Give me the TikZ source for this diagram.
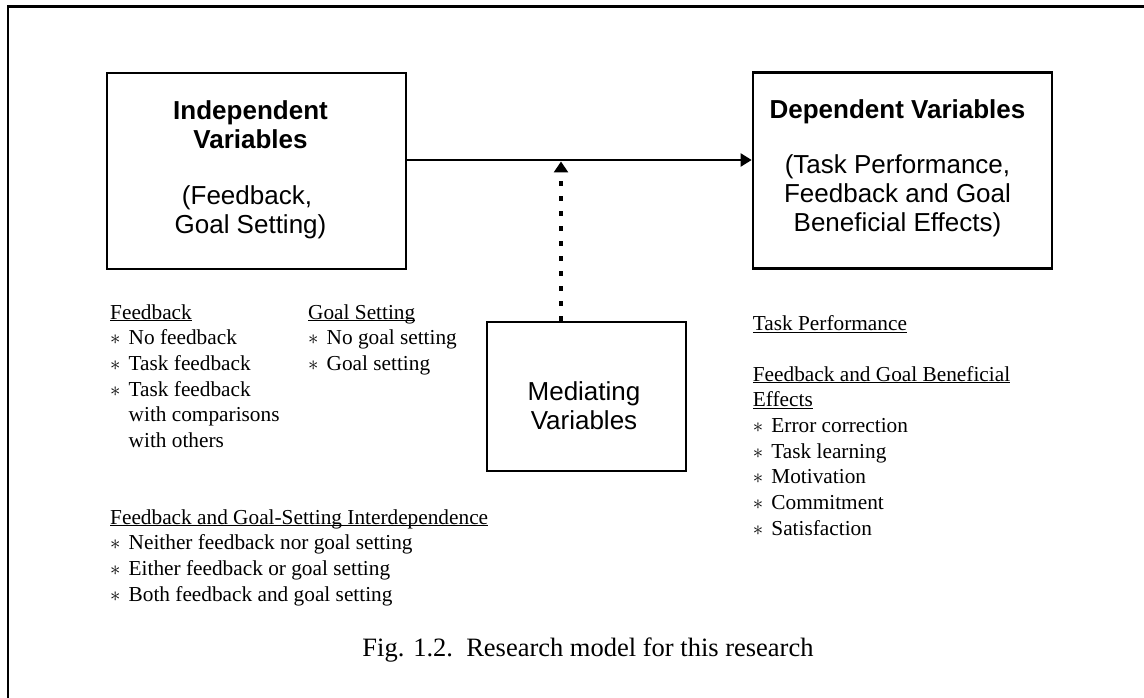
\documentclass[tikz,border=0pt]{standalone}
\usepackage{fontspec}
\setmainfont{Liberation Serif}
\newfontfamily\boxfont{Liberation Sans}
\usetikzlibrary{arrows.meta}

% underline at a fixed depth, crossing descenders
\newcommand{\ulinetext}[1]{\setbox0\hbox{#1}\rlap{\rule[-2.2pt]{\wd0}{1.3pt}}\box0}
% list bullet and continuation indent
\newcommand{\bul}{\makebox[18.5pt][l]{$\ast$}}
\newcommand{\cont}{\hspace*{18.5pt}}

\begin{document}
\begin{tikzpicture}[x=1pt, y=-1pt,
  varbox/.style={draw, line width=2.6pt, inner sep=0pt, minimum width=299pt, minimum height=196pt},
  % multi-line nodes sit on the baseline of their last line
  boxtitle/.style={font=\boxfont\bfseries\fontsize{26pt}{29.5pt}\selectfont, align=center, inner sep=0pt, anchor=base},
  boxtext/.style={font=\boxfont\fontsize{26pt}{29pt}\selectfont, align=center, inner sep=0pt, anchor=base},
  listtext/.style={font=\fontsize{21.3pt}{25.7pt}\selectfont, align=left, inner sep=0pt, anchor=base west},
  flow/.style={line width=2pt, -{Triangle[length=11pt, width=13pt]}},
  mediate/.style={line width=3.5pt, dash pattern=on 5pt off 10pt, -{Triangle[length=11pt, width=14pt]}}
]
\useasboundingbox (0,0) rectangle (1144,698);

% page frame
\draw[line width=2.3pt] (7.8,705) -- (7.8,6.6) -- (1150,6.6);

% the three variable boxes
\node[varbox] (iv) at (256.5,171) {};
\node[varbox] (dv) at (902.5,170.3) {};
\node[varbox, minimum width=199pt, minimum height=149pt] (med) at (586.5,396.5) {};

\node[boxtitle] (ivhead) at (250.5,149) {Independent\\Variables};
\node[boxtext] (ivsub) at (250.5,233.3) {(Feedback,\kern7pt\\Goal Setting)};

\node[boxtitle] (dvhead) at (897.5,119) {Dependent Variables};
\node[boxtext] (dvsub) at (897.5,231.7) {(Task Performance,\\Feedback and Goal\\Beneficial Effects)};

\node[boxtext] (medtext) at (584,429) {Mediating\\Variables};

% connectors
\draw[flow] (iv.east |- 0,160) -- (dv.west |- 0,160);
\coordinate (meet) at (561,161.5);
\draw[mediate] (med.north -| meet) -- (meet);

% lists under the boxes
\node[listtext] (fblist) at (110,447.5) {\ulinetext{Feedback}\\\bul No feedback\\\bul Task feedback\\\bul Task feedback\\\cont with comparisons\\\cont with others};
\node[listtext] (gslist) at (308,370.4) {\ulinetext{Goal Setting}\\\bul No goal setting\\\bul Goal setting};
\node[listtext] (fglist) at (110,601.1) {\ulinetext{Feedback and Goal-Setting Interdependence}\\\bul Neither feedback nor goal setting\\\bul Either feedback or goal setting\\\bul Both feedback and goal setting};

\node[listtext] (tplist) at (752.7,330.7) {\ulinetext{Task Performance}};
\node[listtext] (belist) at (752.7,535.2) {\ulinetext{Feedback and Goal Beneficial}\\\ulinetext{Effects}\\\bul Error correction\\\bul Task learning\\\bul Motivation\\\bul Commitment\\\bul Satisfaction};

% caption
\node[font=\fontsize{26.5pt}{31pt}\selectfont, inner sep=0pt, anchor=base] (caption) at (588,656) {Fig. 1.2.\ \ Research model for this research};
\end{tikzpicture}
\end{document}
